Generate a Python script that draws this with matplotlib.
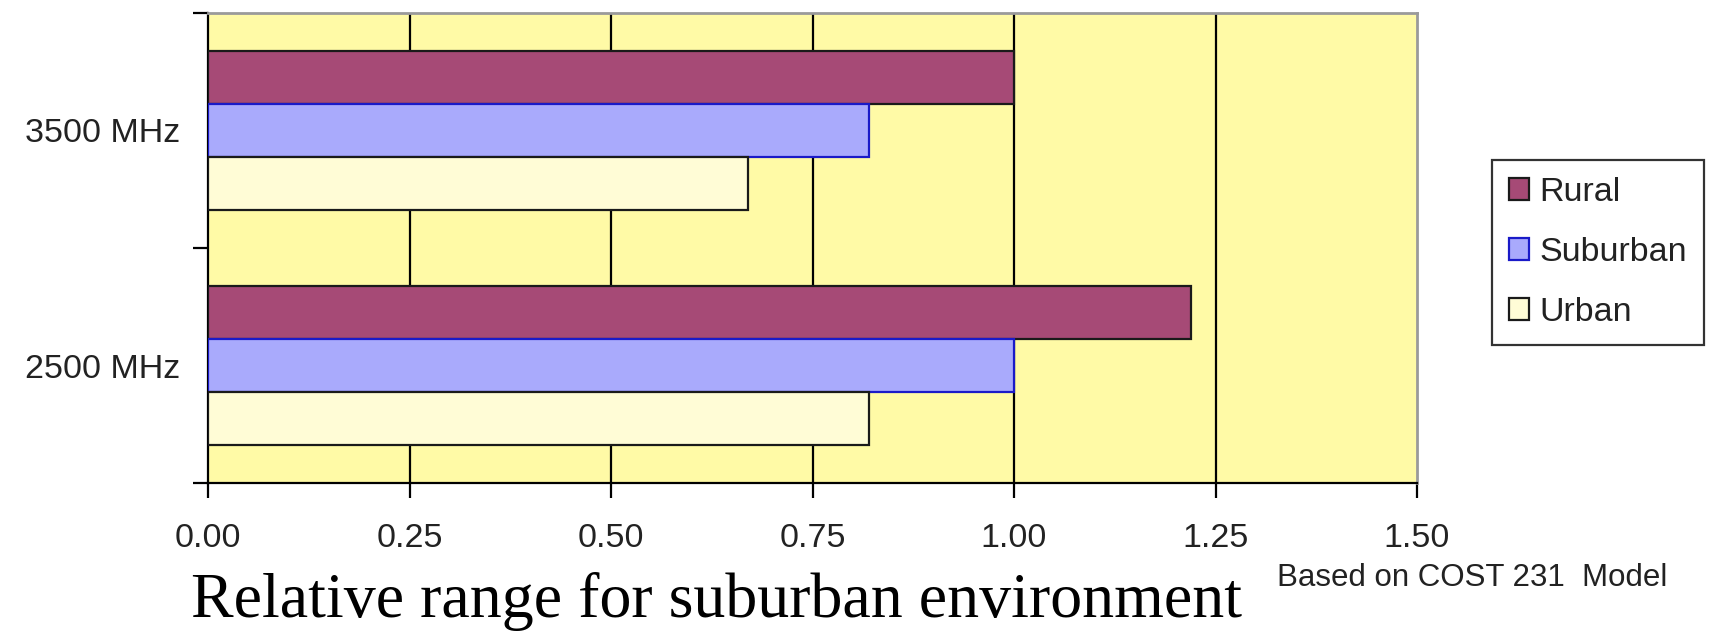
import numpy as np
import matplotlib
matplotlib.use("Agg")
import matplotlib.pyplot as plt
from matplotlib.patches import Patch

# data
categories = ["2500 MHz", "3500 MHz"]
series = ["Rural", "Suburban", "Urban"]
rural = [1.22, 1.00]
suburban = [1.00, 0.82]
urban = [0.82, 0.67]
xticks = [0.00, 0.25, 0.50, 0.75, 1.00, 1.25, 1.50]

faces = ["#A64A76", "#A9AAFC", "#FFFCD6"]
edges = ["#1a1a1a", "#1a1ac8", "#1a1a1a"]
FS = 24.5

fig = plt.figure(figsize=(17.11, 6.32), dpi=100)
ax = fig.add_axes([208 / 1711, 1 - 483 / 632, (1417 - 208) / 1711, (483 - 13) / 632])
ax.set_facecolor("#FFFAA6")

y = np.arange(len(categories))
h = 0.225
for i, (vals, fc, ec) in enumerate(zip([rural, suburban, urban], faces, edges)):
    ax.barh(y + h * (1 - i), vals, height=h, color=fc, edgecolor=ec,
            linewidth=1.6, zorder=3, label=series[i])

ax.set_xlim(0, 1.5)
ax.set_ylim(-0.5, 1.5)
ax.set_xticks(xticks)
ax.set_xticklabels([f"{v:.2f}" for v in xticks])
for v in xticks[1:-1]:
    ax.axvline(v, color="black", lw=1.6, zorder=1)

# category ticks at the band edges, labels at the centres
ax.set_yticks([-0.5, 0.5, 1.5])
ax.set_yticklabels([])
ax.set_yticks(y, minor=True)
ax.set_yticklabels(categories, minor=True, fontsize=FS, family="Liberation Sans", color="#222222")
ax.tick_params(axis="y", which="minor", length=0, pad=20)
ax.tick_params(axis="y", which="major", length=11, width=1.6, direction="out")
ax.tick_params(axis="x", length=11, width=1.6, direction="out", pad=18,
               labelsize=FS, labelcolor="#222222")
for lab in ax.get_xticklabels():
    lab.set_family("Liberation Sans")

for s in ["left", "bottom"]:
    ax.spines[s].set_color("black")
    ax.spines[s].set_linewidth(1.6)
for s in ["top", "right"]:
    ax.spines[s].set_color("#9a9a9a")
    ax.spines[s].set_linewidth(2)

handles = [Patch(facecolor=fc, edgecolor=ec, linewidth=1.6) for fc, ec in zip(faces, edges)]
leg = fig.legend(handles, series, loc="upper left", bbox_to_anchor=(1492 / 1711, 1 - 160 / 632),
                 borderaxespad=0, frameon=True, fancybox=False, edgecolor="black",
                 handlelength=0.6, handleheight=0.6, handletextpad=0.3, labelspacing=0.85,
                 borderpad=0.5, prop={"family": "Liberation Sans", "size": FS})
leg.get_frame().set_linewidth(1.6)
for t in leg.get_texts():
    t.set_color("#222222")

fig.text(1667 / 1711, 1 - 586 / 632, "Based on COST 231  Model", ha="right", va="baseline",
         fontsize=22.5, family="Liberation Sans", color="#222222")
fig.text(191 / 1711, 1 - 617 / 632, "Relative range for suburban environment", ha="left",
         va="baseline", fontsize=46, family="Liberation Serif", color="black")

fig.savefig("out.png", dpi=100)
